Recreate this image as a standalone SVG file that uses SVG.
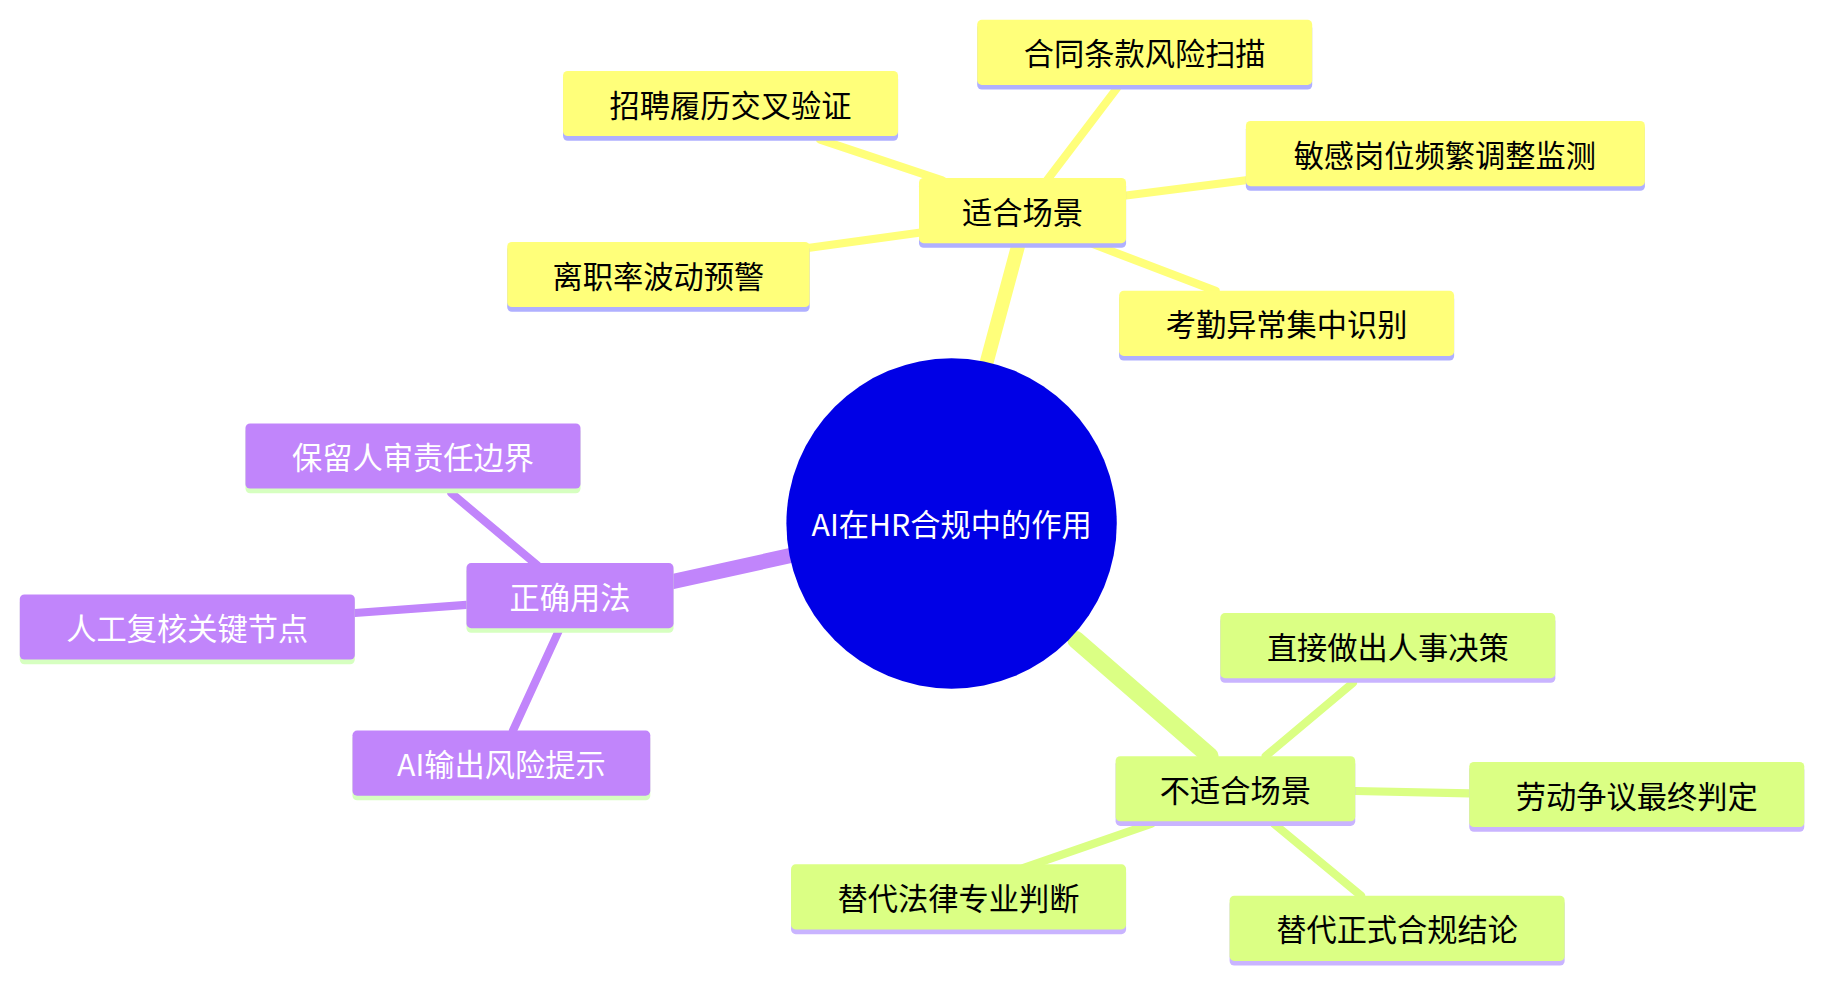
<svg xmlns="http://www.w3.org/2000/svg" width="1824" height="983" viewBox="0 0 1824 983">
<style>
text{font-family:"Noto Sans CJK SC","Noto Sans",sans-serif;font-size:26px;text-anchor:middle;dominant-baseline:central}
.y rect.b{fill:#ffff7a}.y rect.u{fill:#b0b0ff}
.p rect.b{fill:#c185fb}.p rect.u{fill:#d6ffc0}.p text{fill:#fff}
.g rect.b{fill:#dbff84}.g rect.u{fill:#c9b4ff}
.cy{stroke:#ffff7a;fill:none;stroke-linecap:round}
.cp{stroke:#c185fb;fill:none;stroke-linecap:round}
.cg{stroke:#dbff84;fill:none;stroke-linecap:round}
</style>
<rect width="1824" height="983" fill="#fff"/>
<g transform="scale(1.1633)">
<g id="connectors">
<path class="cy" stroke-width="12" d="M848 312 L875 212"/>
<path class="cp" stroke-width="13" d="M682 477 L578 500"/>
<path class="cg" stroke-width="15" d="M925 550 L1040 650"/>
<path class="cy" stroke-width="7" d="M810 155 L705 120 M900 155 L960 76 M968 168 L1071 155 M790 200 L696 213 M940 210 L1045 250"/>
<path class="cp" stroke-width="7" d="M462 486 L388 424 M401 520 L305 527 M480 543 L441 628"/>
<path class="cg" stroke-width="7" d="M1088 650 L1163 587 M1165 680 L1263 682 M1095 708 L1170 770 M990 708 L880 746"/>
</g>
<g id="center"><circle cx="818" cy="450" r="142" fill="#0000e6"/><text x="818" y="450" fill="#fff">AI在HR合规中的作用</text></g>
<g id="n1" class="y"><rect class="u" x="790" y="156" width="178" height="57" rx="4"/><rect class="b" x="790" y="153" width="178" height="56" rx="4"/><text x="879" y="181">适合场景</text></g>
<g id="n2" class="y"><rect class="u" x="484" y="64" width="288" height="57" rx="4"/><rect class="b" x="484" y="61" width="288" height="56" rx="4"/><text x="628" y="89">招聘履历交叉验证</text></g>
<g id="n3" class="y"><rect class="u" x="840" y="20" width="288" height="57" rx="4"/><rect class="b" x="840" y="17" width="288" height="56" rx="4"/><text x="984" y="45">合同条款风险扫描</text></g>
<g id="n4" class="y"><rect class="u" x="1071" y="107" width="343" height="57" rx="4"/><rect class="b" x="1071" y="104" width="343" height="56" rx="4"/><text x="1242" y="132">敏感岗位频繁调整监测</text></g>
<g id="n5" class="y"><rect class="u" x="436" y="211" width="260" height="57" rx="4"/><rect class="b" x="436" y="208" width="260" height="56" rx="4"/><text x="566" y="236">离职率波动预警</text></g>
<g id="n6" class="y"><rect class="u" x="962" y="253" width="288" height="57" rx="4"/><rect class="b" x="962" y="250" width="288" height="56" rx="4"/><text x="1106" y="278">考勤异常集中识别</text></g>
<g id="n7" class="p"><rect class="u" x="401" y="487" width="178" height="57" rx="4"/><rect class="b" x="401" y="484" width="178" height="56" rx="4"/><text x="490" y="512">正确用法</text></g>
<g id="n8" class="p"><rect class="u" x="211" y="367" width="288" height="57" rx="4"/><rect class="b" x="211" y="364" width="288" height="56" rx="4"/><text x="355" y="392">保留人审责任边界</text></g>
<g id="n9" class="p"><rect class="u" x="17" y="514" width="288" height="57" rx="4"/><rect class="b" x="17" y="511" width="288" height="56" rx="4"/><text x="161" y="539">人工复核关键节点</text></g>
<g id="n10" class="p"><rect class="u" x="303" y="631" width="256" height="57" rx="4"/><rect class="b" x="303" y="628" width="256" height="56" rx="4"/><text x="431" y="656">AI输出风险提示</text></g>
<g id="n11" class="g"><rect class="u" x="959" y="653" width="206" height="57" rx="4"/><rect class="b" x="959" y="650" width="206" height="56" rx="4"/><text x="1062" y="678">不适合场景</text></g>
<g id="n12" class="g"><rect class="u" x="1049" y="530" width="288" height="57" rx="4"/><rect class="b" x="1049" y="527" width="288" height="56" rx="4"/><text x="1193" y="555">直接做出人事决策</text></g>
<g id="n13" class="g"><rect class="u" x="1263" y="658" width="288" height="57" rx="4"/><rect class="b" x="1263" y="655" width="288" height="56" rx="4"/><text x="1407" y="683">劳动争议最终判定</text></g>
<g id="n14" class="g"><rect class="u" x="680" y="746" width="288" height="57" rx="4"/><rect class="b" x="680" y="743" width="288" height="56" rx="4"/><text x="824" y="771">替代法律专业判断</text></g>
<g id="n15" class="g"><rect class="u" x="1057" y="773" width="288" height="57" rx="4"/><rect class="b" x="1057" y="770" width="288" height="56" rx="4"/><text x="1201" y="798">替代正式合规结论</text></g>
</g>
</svg>
